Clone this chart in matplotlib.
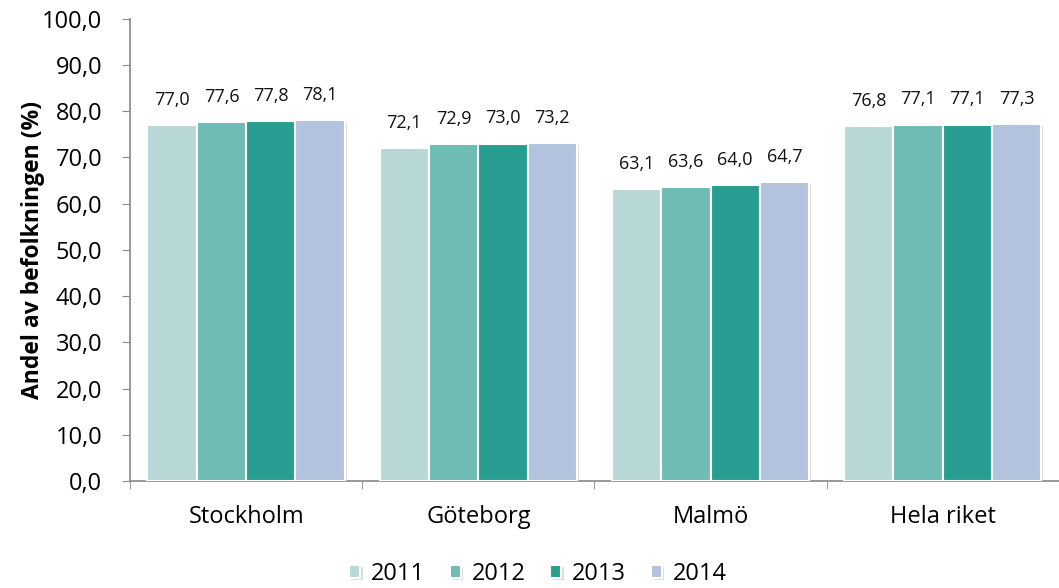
import matplotlib
matplotlib.use('Agg')
import numpy as np
import matplotlib.pyplot as plt
import matplotlib.patheffects as pe

plt.rcParams['font.family'] = ['Open Sans', 'DejaVu Sans']

# data
regions = ['Stockholm', 'Göteborg', 'Malmö', 'Hela riket']
years = ['2011', '2012', '2013', '2014']
v2011 = [77.0, 72.1, 63.1, 76.8]
v2012 = [77.6, 72.9, 63.6, 77.1]
v2013 = [77.8, 73.0, 64.0, 77.1]
v2014 = [78.1, 73.2, 64.7, 77.3]
series = [v2011, v2012, v2013, v2014]
cols = ['#B7D8D6', '#6FBCB4', '#289E92', '#B3C3DE']

fig = plt.figure(figsize=(10.59, 5.88), dpi=100)
ax = fig.add_axes([0.1228, 0.182, 0.877, 0.786])

x = np.arange(len(regions))
w = 0.2125
for i, (vals, c) in enumerate(zip(series, cols)):
    pos = x + (i - 1.5) * w
    bars = ax.bar(pos, vals, width=w, color=c, edgecolor='white', linewidth=1.5,
                  label=years[i], zorder=3)
    for b in bars:
        b.set_path_effects([pe.SimplePatchShadow(offset=(1.5, -1.5), shadow_rgbFace='#bbbbbb', alpha=0.5),
                            pe.Normal()])
    for xp, v in zip(pos, vals):
        ax.text(xp, v + 3.5, ('%.1f' % v).replace('.', ','), ha='center', va='bottom',
                fontsize=13, color='#111111')

ax.set_xlim(-0.5, 3.5)
ax.set_ylim(0, 100)
ax.set_yticks(np.arange(0, 101, 10))
ax.set_yticklabels([('%.1f' % t).replace('.', ',') for t in np.arange(0, 101, 10)], fontsize=17)
ax.set_xticks(x)
ax.set_xticklabels(regions, fontsize=17)
ax.set_xticks(np.arange(-0.5, 3.6, 1), minor=True)
ax.tick_params(axis='x', which='major', length=0, pad=17)
ax.tick_params(axis='x', which='minor', length=6, color='#888888', direction='out')
ax.tick_params(axis='y', length=6, color='#888888', direction='out', pad=14)
ax.set_ylabel('Andel av befolkningen (%)', fontsize=16.5, fontweight='bold', labelpad=-2)

for s in ['top', 'right']:
    ax.spines[s].set_visible(False)
for s in ['left', 'bottom']:
    ax.spines[s].set_color('#888888')
    ax.spines[s].set_linewidth(1.2)

fig.legend(*ax.get_legend_handles_labels(), loc='center', bbox_to_anchor=(0.508, 1 - 574 / 588),
           ncol=4, frameon=False, fontsize=17, handlelength=0.47, handleheight=0.47,
           handletextpad=0.45, columnspacing=1.05)

plt.savefig('out.png', dpi=100)
